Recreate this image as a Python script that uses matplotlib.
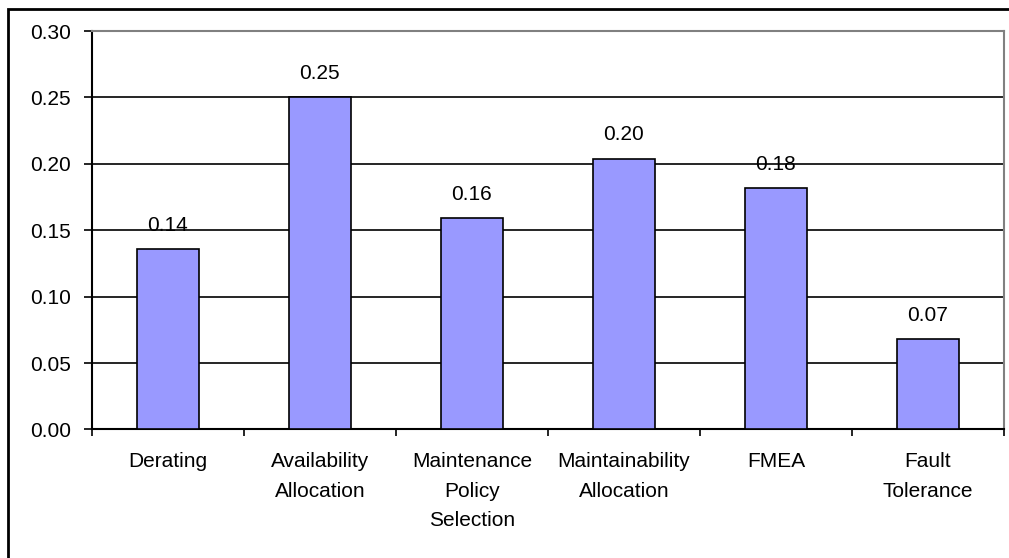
import numpy as np
import matplotlib
matplotlib.use('Agg')
import matplotlib.pyplot as plt
from matplotlib.patches import Rectangle

plt.rcParams['font.family'] = ['Liberation Sans', 'DejaVu Sans']

# data
categories = ['Derating', 'Availability\nAllocation', 'Maintenance\nPolicy\nSelection',
              'Maintainability\nAllocation', 'FMEA', 'Fault\nTolerance']
values = [0.136, 0.250, 0.159, 0.204, 0.182, 0.068]
value_labels = ['0.14', '0.25', '0.16', '0.20', '0.18', '0.07']
yticks = [0.00, 0.05, 0.10, 0.15, 0.20, 0.25, 0.30]

fig = plt.figure(figsize=(10.09, 5.58), dpi=100)
ax = fig.add_axes([0.0909, 0.2303, 0.9041, 0.7141])

x = np.arange(len(categories))
ax.bar(x, values, width=0.41, color='#9999FF', edgecolor='black', linewidth=1.2, zorder=3)

for xi, v, lab in zip(x, values, value_labels):
    ax.annotate(lab, (xi, v), xytext=(0, 13), textcoords='offset points',
                ha='center', va='baseline', fontsize=15, zorder=4)

ax.set_xlim(-0.5, len(categories) - 0.5)
ax.set_ylim(0, 0.30)
ax.set_yticks(yticks)
ax.set_yticklabels(['%.2f' % t for t in yticks], fontsize=15)
ax.yaxis.grid(True, color='black', linewidth=1.2)
ax.set_axisbelow(True)

# category labels centred, ticks on the boundaries
ax.set_xticks(x)
ax.set_xticklabels(categories, fontsize=15, linespacing=1.72)
ax.set_xticks(np.arange(-0.5, len(categories)), minor=True)
ax.tick_params(axis='x', which='major', length=0, pad=16)
ax.tick_params(axis='x', which='minor', length=5, width=1.2, direction='out')
ax.tick_params(axis='y', length=6, width=1.2, direction='out', pad=9)

for s in ['top', 'right']:
    ax.spines[s].set_color('#808080')
    ax.spines[s].set_linewidth(1.5)
for s in ['left', 'bottom']:
    ax.spines[s].set_color('black')
    ax.spines[s].set_linewidth(1.5)

# outer chart frame, cut off at the right and bottom
fig.add_artist(Rectangle((8 / 1009, -0.1), 1.2, 1 - 9 / 558 + 0.1,
                         transform=fig.transFigure, fill=False,
                         edgecolor='black', linewidth=2))

fig.savefig('out.png', dpi=100)
